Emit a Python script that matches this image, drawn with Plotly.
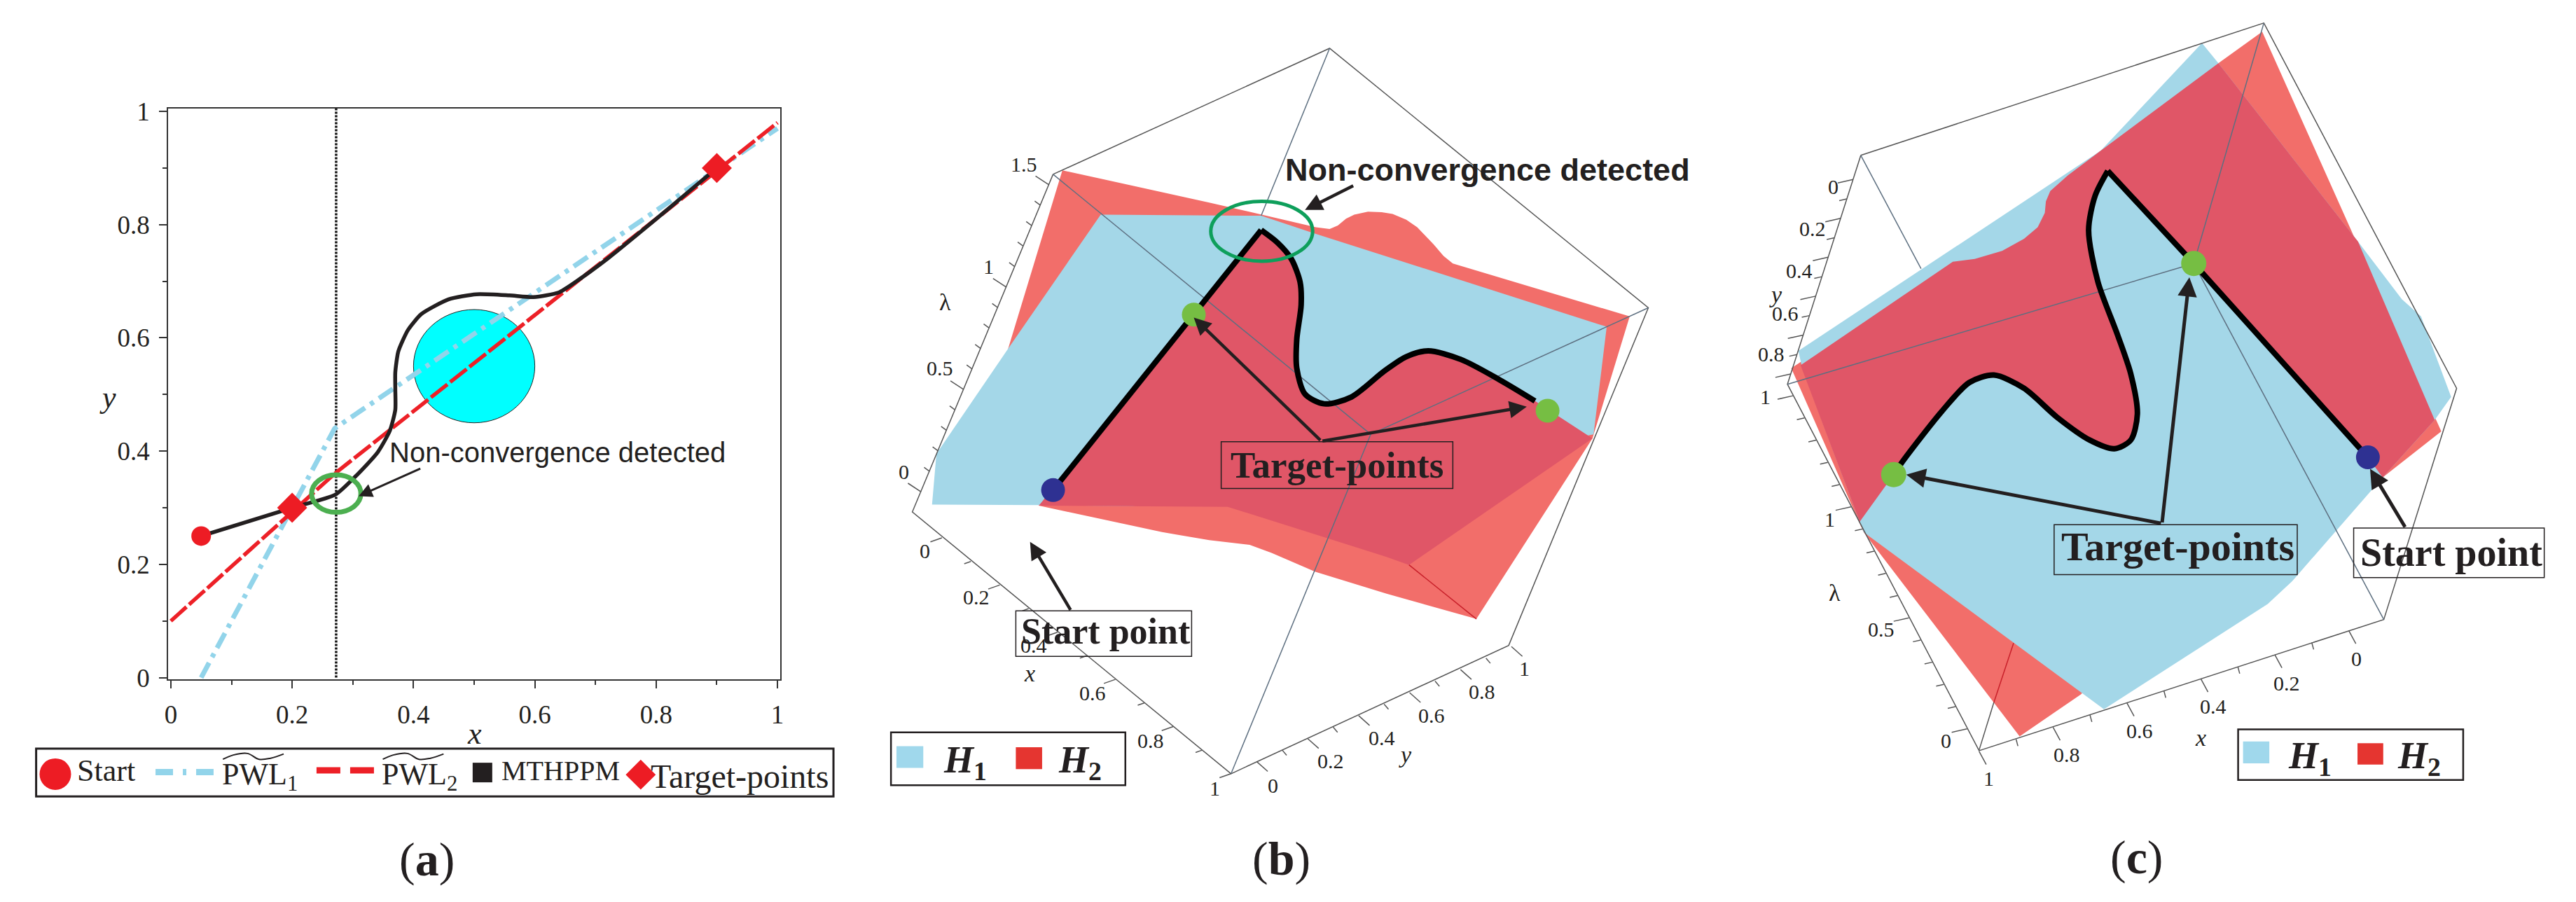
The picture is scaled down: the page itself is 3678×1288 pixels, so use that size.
import plotly.graph_objects as go

W, H = 3678, 1288
SERIF = "Liberation Serif"
SANS = "Liberation Sans"
INK = "#231F20"
BLUE = "#A4D7E8"
LRED = "#F26E6A"
DRED = "#E05667"
NAVY = "#2E3192"
LIME = "#76BE43"
GREEN_B = "#0E9F5B"
GREEN_A = "#4CAF50"
EDGE = "#555555"

# ---- panel (a): values in data units
a_start_x, a_start_y = [0.05], [0.25]
a_target_x, a_target_y = [0.2, 0.9], [0.3, 0.9]
pwl1_x, pwl1_y = [0.05, 0.27, 1.0], [0.0, 0.44, 0.97]
pwl2_x, pwl2_y = [0.0, 0.27, 1.0], [0.1, 0.36, 0.98]
path_x = [0.05, 0.2, 0.271, 0.305, 0.341, 0.361, 0.37, 0.37, 0.37, 0.375, 0.391, 0.413, 0.458, 0.504, 0.558, 0.598, 0.639, 0.666, 0.72, 0.80, 0.85, 0.9]
path_y = [0.25, 0.3, 0.323, 0.356, 0.398, 0.436, 0.473, 0.51, 0.539, 0.576, 0.614, 0.642, 0.668, 0.677, 0.675, 0.672, 0.68, 0.698, 0.74, 0.81, 0.855, 0.9]
vline_x, vline_y = [0.2725, 0.2725], [0.0, 1.005]
a_ticks = [0, 0.2, 0.4, 0.6, 0.8, 1]
a_ticktext = ["0", "0.2", "0.4", "0.6", "0.8", "1"]
a_minor = [0.1, 0.3, 0.5, 0.7, 0.9]

# ---- panel (b): projected readings
b_red_x = [372, 640, 835, 860, 875, 890, 905, 930, 955, 975, 1000, 1020, 1035, 1050, 1068, 1085, 1408, 1340, 1128, 964, 834, 754, 714, 640, 554, 329, 273]
b_red_y = [296, 352, 395, 398, 392, 380, 373, 368, 369, 372, 382, 395, 410, 425, 445, 458, 550, 762, 1076, 1032, 994, 961, 947, 939, 925, 879, 606]
b_blue_x = [442, 735, 830, 1366, 1342, 1100, 500, 329, 134, 142, 273]
b_blue_y = [373, 375, 405, 568, 755, 800, 880, 878, 877, 789, 606]
b_dark_x = [735, 765, 790, 806, 808, 800, 800, 815, 850, 900, 960, 1000, 1040, 1100, 1170, 1235, 1340, 1005, 964, 674, 329, 612]
b_dark_y = [400, 422, 450, 490, 530, 590, 640, 685, 702, 690, 645, 620, 610, 625, 660, 697, 762, 982, 968, 881, 879, 547]
b_line_x = [355, 612, 735]
b_line_y = [852, 547, 400]
b_curve_x = [735, 765, 790, 806, 808, 800, 800, 815, 850, 900, 960, 1000, 1040, 1100, 1170, 1235]
b_curve_y = [400, 422, 450, 490, 530, 590, 640, 685, 702, 690, 645, 620, 610, 625, 660, 697]
b_start_x, b_start_y = [355], [852]
b_target_x, b_target_y = [612, 1258], [547, 714]
b_frame_x = [355, 860, 1442, 1187, 680, 98, 355]
b_frame_y = [303, 84, 535, 1122, 1345, 890, 303]
b_back_x = [860, 735, None, 355, 935, None, 1442, 935, None, 680, 935]
b_back_y = [84, 375, None, 303, 755, None, 535, 755, None, 1345, 755]
b_red_edge_x, b_red_edge_y = [1005, 1128], [982, 1076]
b_tick_labels = ["1.5", "1", "0.5", "0", "0", "0.2", "0.4", "0.6", "0.8", "1", "0", "0.2", "0.4", "0.6", "0.8", "1"]
b_tick_x = [302, 237, 148, 82, 121, 215, 320, 427, 533, 650, 757, 862, 955, 1046, 1138, 1216]
b_tick_y = [286, 463, 640, 820, 958, 1038, 1122, 1205, 1287, 1370, 1365, 1323, 1283, 1243, 1202, 1162]

# ---- panel (c): projected readings
c_red_x = [135, 430, 470, 520, 560, 585, 598, 600, 608, 640, 700, 915, 995, 1322, 1215, 1000, 664, 552, 267]
c_red_y = [640, 455, 450, 436, 415, 395, 370, 350, 332, 305, 262, 110, 55, 750, 830, 900, 1207, 1280, 925]
c_blue_x = [148, 600, 700, 885, 915, 1170, 1250, 1285, 1340, 1310, 1215, 1050, 1005, 706, 267, 155]
c_blue_y = [610, 325, 262, 75, 110, 420, 520, 550, 690, 730, 830, 1010, 1050, 1233, 925, 640]
c_dark_x = [152, 430, 470, 520, 560, 585, 598, 600, 608, 640, 700, 915, 1170, 1310, 1215, 1188, 870, 713, 690, 678, 695, 730, 755, 767, 755, 725, 680, 620, 560, 505, 460, 410, 340, 322, 260]
c_dark_y = [635, 455, 450, 436, 415, 395, 370, 350, 332, 305, 262, 110, 420, 730, 830, 795, 458, 297, 340, 400, 490, 580, 650, 720, 765, 780, 765, 725, 675, 652, 665, 715, 800, 825, 907]
c_line_x = [1188, 870, 713]
c_line_y = [795, 458, 297]
c_curve_x = [713, 690, 678, 695, 730, 755, 767, 755, 725, 680, 620, 560, 505, 460, 410, 340, 322]
c_curve_y = [297, 340, 400, 490, 580, 650, 720, 765, 780, 765, 725, 675, 652, 665, 715, 800, 825]
c_start_x, c_start_y = [1188], [795]
c_target_x, c_target_y = [870, 322], [458, 825]
c_frame_x = [262, 998, 1350, 1217, 478, 128, 262]
c_frame_y = [270, 40, 675, 1077, 1305, 668, 270]
c_back_x = [998, 870, None, 128, 870, None, 870, 1217, None, 262, 372]
c_back_y = [40, 458, None, 668, 458, None, 458, 1077, None, 270, 467]
c_red_edge_x, c_red_edge_y = [541, 505], [1118, 1221]
c_black_edge_x, c_black_edge_y = [505, 478], [1221, 1304]
c_tick_labels = ["0", "0.2", "0.4", "0.6", "0.8", "1", "1", "0.5", "0", "1", "0.8", "0.6", "0.4", "0.2", "0"]
c_tick_x = [212, 174, 150, 124, 99, 87, 205, 299, 418, 496, 638, 771, 906, 1040, 1167]
c_tick_y = [325, 398, 470, 545, 615, 690, 903, 1094, 1287, 1353, 1312, 1270, 1228, 1187, 1145]


def ticks(p0, p1, n, every, maj, mino):
    xs, ys = [], []
    for i in range(n + 1):
        x = p0[0] + (p1[0] - p0[0]) * i / n
        y = p0[1] + (p1[1] - p0[1]) * i / n
        v = maj if i % every == 0 else mino
        xs += [x, x + v[0], None]
        ys += [y, y + v[1], None]
    return xs, ys


fig = go.Figure()
fig.update_layout(template="none", width=W, height=H, margin=dict(l=0, r=0, t=0, b=0, pad=0), paper_bgcolor="white",
                  plot_bgcolor="rgba(0,0,0,0)", showlegend=False, hovermode=False, dragmode=False)

Ax0, Ax1, Ay0, Ay1 = 240, 1114, 154.5, 970
axis_a = dict(tickvals=a_ticks, ticktext=a_ticktext, ticks="outside", ticklen=11, tickcolor="#333", tickwidth=1.5,
              ticklabelstandoff=6, automargin=False,
              minor=dict(tickvals=a_minor, ticks="outside", ticklen=6, tickcolor="#333", tickwidth=1.5),
              showgrid=False, zeroline=False, showline=True, mirror=True, linecolor="#333", linewidth=1.5,
              tickfont=dict(family=SERIF, size=37, color=INK))
fig.update_layout(
    xaxis=dict(domain=[Ax0 / W, Ax1 / W], range=[-0.0045, 1.0045], **axis_a),
    yaxis=dict(domain=[1 - Ay1 / H, 1 - Ay0 / H], range=[-0.003, 1.0056], **axis_a),
)
hidden = dict(visible=False, showgrid=False, zeroline=False, fixedrange=True, automargin=False)
fig.update_layout(
    xaxis2=dict(domain=[1226 / W, 2452 / W], range=[0, 1568], anchor="y2", **hidden),
    yaxis2=dict(domain=[0, 1], range=[1568, 0], anchor="x2", **hidden),
    xaxis3=dict(domain=[2452 / W, 1], range=[0, 1568], anchor="y3", **hidden),
    yaxis3=dict(domain=[0, 1], range=[1568, 0], anchor="x3", **hidden),
    xaxis4=dict(domain=[0, 1226 / W], range=[0, 1568], anchor="y4", **hidden),
    yaxis4=dict(domain=[0, 1188 / H], range=[1568, 0], anchor="x4", **hidden),
)


def add(x, y, xa="x", ya="y", **kw):
    kw.setdefault("mode", "lines")
    kw.setdefault("hoverinfo", "skip")
    fig.add_trace(go.Scatter(x=x, y=y, xaxis=xa, yaxis=ya, **kw))


add(vline_x, vline_y, name="Non-convergence x", line=dict(color="#111", width=3.5, dash="3px,2px"))
add(pwl1_x, pwl1_y, name="PWL1", line=dict(color="#92D4EA", width=7, dash="24px,9px,6px,9px"))
add(pwl2_x, pwl2_y, name="PWL2", line=dict(color="#ED2027", width=5.5, dash="30px,5px"))
add(path_x, path_y, name="MTHPPM", line=dict(color=INK, width=5.5, shape="spline", smoothing=0.6))
add(a_start_x, a_start_y, mode="markers", name="Start", marker=dict(color="#ED1C24", size=28))
add(a_target_x, a_target_y, mode="markers", name="Target-points", marker=dict(color="#ED1C24", size=33, symbol="diamond"))

fig.add_shape(type="circle", xref="x", yref="y", x0=0.4, x1=0.6, y0=0.45, y1=0.65, layer="below",
              fillcolor="#00FFFF", line=dict(color="#222", width=1))
fig.add_shape(type="circle", xref="x", yref="y", x0=0.2726 - 0.0406, x1=0.2726 + 0.0406, y0=0.325 - 0.033, y1=0.325 + 0.033,
              line=dict(color=GREEN_A, width=7))
fig.add_annotation(x=0.637, y=0.398, xref="x", yref="y", text="Non-convergence detected", showarrow=False,
                   font=dict(family=SANS, size=40, color=INK))
fig.add_annotation(x=0.3096, y=0.3205, ax=0.413, ay=0.370, xref="x", yref="y", axref="x", ayref="y", text="",
                   showarrow=True, arrowhead=2, arrowsize=1.3, arrowwidth=3, arrowcolor=INK)

# ---- legend of (a), in overlay axis
add([284, 390], [1323, 1323], "x4", "y4", line=dict(color="#92D4EA", width=9, dash="25px,14px,5px,14px,25px"))
add([578, 684], [1320, 1320], "x4", "y4", line=dict(color="#ED2027", width=9, dash="34px,14px,34px"))
add([101], [1327], "x4", "y4", mode="markers", marker=dict(color="#ED1C24", size=45))
add([881], [1324], "x4", "y4", mode="markers", marker=dict(color=INK, size=28, symbol="square"))
add([1170], [1328], "x4", "y4", mode="markers", marker=dict(color="#ED1C24", size=33, symbol="diamond"))
tilde_x = [407, 426, 452, 473, 494, 518]
tilde_y = [1299, 1291, 1288, 1299, 1297, 1289]
add(tilde_x, tilde_y, "x4", "y4", line=dict(color=INK, width=2, shape="spline"))
add([v + 292 for v in tilde_x], tilde_y, "x4", "y4", line=dict(color=INK, width=2, shape="spline"))
fig.add_shape(type="rect", xref="x4", yref="y4", x0=66, x1=1522, y0=1279, y1=1369, line=dict(color=INK, width=3))
for txt, xx, yy, sz in [("Start", 194, 1321, 44), ("PWL<sub>1</sub>", 474, 1331, 44), ("PWL<sub>2</sub>", 766, 1331, 44),
                        ("MTHPPM", 1024, 1321, 40), ("Target-points", 1351, 1331, 48), ("(<b>a</b>)", 780, 1488, 68),
                        ("<i>x</i>", 866, 1250, 44), ("<i>y</i>", 197, 617, 44)]:
    fig.add_annotation(x=xx, y=yy, xref="x4", yref="y4", text=txt, showarrow=False, font=dict(family=SERIF, size=sz, color=INK))


def text(xa, ya, x, y, t, family=SERIF, size=30, color=INK):
    fig.add_annotation(x=x, y=y, xref=xa, yref=ya, text=t, showarrow=False, font=dict(family=family, size=size, color=color))


def arrow(xa, ya, tail, head, width=4.5):
    fig.add_annotation(x=head[0], y=head[1], ax=tail[0], ay=tail[1], xref=xa, yref=ya, axref=xa, ayref=ya, text="",
                       showarrow=True, arrowhead=2, arrowsize=1.1, arrowwidth=width, arrowcolor=INK)


def box(xa, ya, x0, y0, x1, y1, width=1.5):
    fig.add_shape(type="rect", xref=xa, yref=ya, x0=x0, x1=x1, y0=y0, y1=y1, line=dict(color=INK, width=width))


def poly(xa, ya, x, y, color, name):
    add(x, y, xa, ya, fill="toself", fillcolor=color, name=name, line=dict(width=0, color=color))


# (b)
poly("x2", "y2", b_red_x, b_red_y, LRED, "H2")
poly("x2", "y2", b_blue_x, b_blue_y, BLUE, "H1")
poly("x2", "y2", b_dark_x, b_dark_y, DRED, "H1 and H2")
add(b_frame_x, b_frame_y, "x2", "y2", line=dict(color=EDGE, width=1.5))
add(b_back_x, b_back_y, "x2", "y2", line=dict(color="#5d6f80", width=1.5))
add(b_red_edge_x, b_red_edge_y, "x2", "y2", line=dict(color="#C8202A", width=1.5))
tb = [ticks((114, 855), (347, 321), 15, 5, (-24, -15), (-10, -7)),
      ticks((152, 935), (680, 1345), 10, 2, (-21, 7), (-12, 4)),
      ticks((727, 1324), (1192, 1124), 10, 2, (20, 17), (8, 9))]
for xs, ys in tb:
    add(xs, ys, "x2", "y2", line=dict(color=EDGE, width=1.5))
add(b_line_x, b_line_y, "x2", "y2", name="path", line=dict(color="#000", width=8))
add(b_curve_x, b_curve_y, "x2", "y2", name="path", line=dict(color="#000", width=8, shape="spline", smoothing=0.8))
add(b_start_x, b_start_y, "x2", "y2", mode="markers", name="Start point", marker=dict(color=NAVY, size=34))
add(b_target_x, b_target_y, "x2", "y2", mode="markers", name="Target-points", marker=dict(color=LIME, size=34))
fig.add_shape(type="circle", xref="x2", yref="y2", x0=643, x1=829, y0=350, y1=454, line=dict(color=GREEN_B, width=5))
for t, x, y in zip(b_tick_labels, b_tick_x, b_tick_y):
    text("x2", "y2", x, y, t)
text("x2", "y2", 158, 525, "λ", size=34)
text("x2", "y2", 312, 1170, "<i>x</i>", size=34)
text("x2", "y2", 998, 1312, "<i>y</i>", size=34)
text("x2", "y2", 1149, 295, "<b>Non-convergence detected</b>", SANS, 45)
box("x2", "y2", 662, 768, 1085, 849)
box("x2", "y2", 287, 1062, 608, 1141)
text("x2", "y2", 873, 808, "<b>Target-points</b>", SERIF, 53)
text("x2", "y2", 452, 1098, "<b>Start point</b>", SERIF, 52)
arrow("x2", "y2", (905, 322), (815, 365))
arrow("x2", "y2", (845, 767), (612, 552))
arrow("x2", "y2", (845, 767), (1220, 707))
arrow("x2", "y2", (388, 1062), (313, 942))
box("x2", "y2", 59, 1273, 487, 1365, 2.5)
fig.add_shape(type="rect", xref="x2", yref="y2", x0=69, x1=118, y0=1297, y1=1335, fillcolor="#A0D8EC", line=dict(width=0))
fig.add_shape(type="rect", xref="x2", yref="y2", x0=287, x1=335, y0=1299, y1=1337, fillcolor="#E53530", line=dict(width=0))
text("x2", "y2", 194, 1325, "<b><i>H</i><sub>1</sub></b>", SERIF, 54)
text("x2", "y2", 404, 1325, "<b><i>H</i><sub>2</sub></b>", SERIF, 54)
text("x2", "y2", 772, 1492, "(<b>b</b>)", SERIF, 68)

# (c)
poly("x3", "y3", c_red_x, c_red_y, LRED, "H2")
poly("x3", "y3", c_blue_x, c_blue_y, BLUE, "H1")
poly("x3", "y3", c_dark_x, c_dark_y, DRED, "H1 and H2")
add(c_frame_x, c_frame_y, "x3", "y3", line=dict(color=EDGE, width=1.5))
add(c_back_x, c_back_y, "x3", "y3", line=dict(color="#5d6f80", width=1.5))
add(c_red_edge_x, c_red_edge_y, "x3", "y3", line=dict(color="#C8202A", width=1.5))
add(c_black_edge_x, c_black_edge_y, "x3", "y3", line=dict(color=EDGE, width=1.5))
tc = [ticks((456, 1267), (138, 688), 15, 5, (-28, 6), (-14, 3)),
      ticks((1153, 1096), (478, 1306), 10, 2, (13, 23), (3.4, 12)),
      ticks((248, 312), (134, 650), 10, 2, (-28, 6), (-14, 3))]
for xs, ys in tc:
    add(xs, ys, "x3", "y3", line=dict(color=EDGE, width=1.5))
add(c_line_x, c_line_y, "x3", "y3", name="path", line=dict(color="#000", width=8))
add(c_curve_x, c_curve_y, "x3", "y3", name="path", line=dict(color="#000", width=8, shape="spline", smoothing=0.8))
add(c_start_x, c_start_y, "x3", "y3", mode="markers", name="Start point", marker=dict(color=NAVY, size=34))
add(c_target_x, c_target_y, "x3", "y3", mode="markers", name="Target-points", marker=dict(color=LIME, size=36))
for t, x, y in zip(c_tick_labels, c_tick_x, c_tick_y):
    text("x3", "y3", x, y, t)
text("x3", "y3", 214, 1030, "λ", size=34)
text("x3", "y3", 107, 512, "<i>y</i>", size=34)
text("x3", "y3", 883, 1282, "<i>x</i>", size=34)
box("x3", "y3", 615, 912, 1059, 999)
box("x3", "y3", 1162, 918, 1510, 1004)
text("x3", "y3", 841, 950, "<b>Target-points</b>", SERIF, 58)
text("x3", "y3", 1340, 960, "<b>Start point</b>", SERIF, 56)
arrow("x3", "y3", (812, 910), (862, 482), 5)
arrow("x3", "y3", (812, 910), (345, 825), 5)
arrow("x3", "y3", (1257, 918), (1192, 815), 5)
box("x3", "y3", 951, 1268, 1362, 1356, 2.5)
fig.add_shape(type="rect", xref="x3", yref="y3", x0=960, x1=1008, y0=1289, y1=1327, fillcolor="#A0D8EC", line=dict(width=0))
fig.add_shape(type="rect", xref="x3", yref="y3", x0=1169, x1=1216, y0=1292, y1=1329, fillcolor="#E53530", line=dict(width=0))
text("x3", "y3", 1082, 1318, "<b><i>H</i><sub>1</sub></b>", SERIF, 54)
text("x3", "y3", 1282, 1318, "<b><i>H</i><sub>2</sub></b>", SERIF, 54)
text("x3", "y3", 766, 1490, "(<b>c</b>)", SERIF, 68)

fig.write_html("out.html", config={"displayModeBar": False}, post_script="document.body.style.margin='0';")
